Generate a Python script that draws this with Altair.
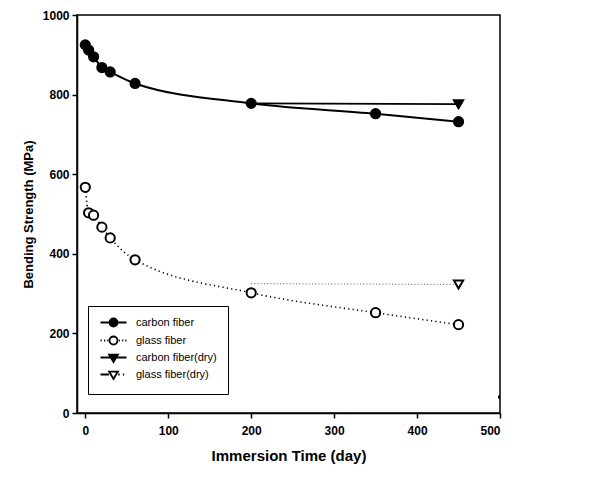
import altair as alt
import pandas as pd

days = [0, 4, 10, 20, 30, 60, 200, 350, 450]
carbon = [925, 912, 895, 868, 857, 828, 778, 752, 732]
glass = [567, 503, 497, 467, 440, 385, 302, 252, 222]
dry_days = [200, 450]
carbon_dry = [778, 776]
glass_dry = [325, 323]
stray_day = [500]
stray_val = [40]

series = ["carbon fiber", "glass fiber", "carbon fiber(dry)", "glass fiber(dry)"]

rows = []
for d, v in zip(days, carbon):
    rows.append({"day": d, "val": v, "series": series[0], "marker": True})
for d, v in zip(days, glass):
    rows.append({"day": d, "val": v, "series": series[1], "marker": True})
for i, (d, v) in enumerate(zip(dry_days, carbon_dry)):
    rows.append({"day": d, "val": v, "series": series[2], "marker": i == len(dry_days) - 1})
for i, (d, v) in enumerate(zip(dry_days, glass_dry)):
    rows.append({"day": d, "val": v, "series": series[3], "marker": i == len(dry_days) - 1})
df = pd.DataFrame(rows)
df["legend_series"] = df["series"]
stray = pd.DataFrame({"day": stray_day, "val": stray_val})

FONT = "Liberation Sans"
xs = alt.Scale(domain=[-10, 500], nice=False, zero=False)
ys = alt.Scale(domain=[0, 1000], nice=False)

X = alt.X("day:Q", scale=xs, title="Immersion Time (day)",
          axis=alt.Axis(values=[0, 100, 200, 300, 400, 500], grid=False, tickSize=5,
                        labelPadding=7, titlePadding=12, labelFontSize=12, format="d",
                        titleFontSize=15, labelFontWeight="bold", titleFontWeight="bold"))
Y = alt.Y("val:Q", scale=ys, title="Bending Strength (MPa)",
          axis=alt.Axis(values=[0, 200, 400, 600, 800, 1000], grid=False, tickSize=5,
                        labelPadding=3, titlePadding=7, labelFontSize=12, format="d",
                        titleFontSize=13, labelFontWeight="bold", titleFontWeight="bold"))

base = alt.Chart(df)

line_styles = {
    series[0]: dict(stroke="black", strokeWidth=2),
    series[1]: dict(stroke="black", strokeWidth=1.6, strokeDash=[1.2, 3.2]),
    series[2]: dict(stroke="black", strokeWidth=1.6),
    series[3]: dict(stroke="#555555", strokeWidth=1.0, strokeDash=[1, 2.2]),
}
lines = [
    base.transform_filter(alt.datum.series == s)
    .mark_line(interpolate="monotone", **st)
    .encode(x=X, y=Y)
    for s, st in line_styles.items()
]

points = base.transform_filter(alt.datum.marker).mark_point(
    stroke="black", strokeWidth=2, size=85, opacity=1
).encode(
    x=X, y=Y,
    shape=alt.Shape("series:N", scale=alt.Scale(domain=series,
                    range=["circle", "circle", "triangle-down", "triangle-down"]), legend=None),
    fill=alt.Fill("series:N", scale=alt.Scale(domain=series,
                  range=["black", "white", "black", "white"]), legend=None),
)


# legend symbol glyphs (line + marker), in Vega's unit symbol space
def ring(cx, r):
    return f"M{cx - r:.3f},0 A{r},{r} 0 1,0 {cx + r:.3f},0 A{r},{r} 0 1,0 {cx - r:.3f},0 Z "


def tri(cx, cy, s):
    pts = [(-1.1, -0.62), (1.1, -0.62), (0.0, 1.25)]
    p = [(cx + s * a, cy + s * b) for a, b in pts]
    return f"M{p[0][0]:.3f},{p[0][1]:.3f} L{p[1][0]:.3f},{p[1][1]:.3f} L{p[2][0]:.3f},{p[2][1]:.3f} Z "


C = 2.25
solid_line = "M-1,0 L5.5,0 "
dots = "M-1,0 L-0.7,0 M-0.1,0 L0.2,0 M0.7,0 L0.95,0 M3.6,0 L3.85,0 M4.4,0 L4.7,0 M5.2,0 L5.5,0 "
paths = [
    solid_line + ring(C, 1.0) + ring(C, 0.65) + ring(C, 0.32) + ring(C, 0.1),
    dots + ring(C, 1.0),
    solid_line + tri(C, -0.12, 1.0) + tri(C, -0.12, 0.6) + tri(C, -0.12, 0.25),
    "M-1,0 L1.1,0 M3.45,0 L3.8,0 M4.6,0 L4.9,0 " + tri(C, -0.12, 1.0),
]
leg = alt.Legend(orient="none", legendX=11, legendY=291, title=None,
                 symbolSize=64, labelOffset=26, padding=11, rowPadding=1,
                 labelFont=FONT, labelFontSize=11, labelColor="black",
                 strokeColor="black", symbolStrokeColor="black",
                 symbolStrokeWidth=1.8, symbolOpacity=1)
legend_layer = base.mark_point(filled=False, color="black", strokeWidth=1.8, opacity=0).encode(
    x=X, y=Y,
    shape=alt.Shape("legend_series:N", scale=alt.Scale(domain=series, range=paths), legend=leg),
)

stray_layer = alt.Chart(stray).mark_circle(color="black", size=18, opacity=1, clip=True).encode(x=X, y=Y)

chart = alt.layer(*lines, points, legend_layer, stray_layer).resolve_scale(
    shape="independent", fill="independent"
).properties(
    width=423, height=398,
    padding={"left": 77, "top": 15, "right": 113, "bottom": 66},
    autosize=alt.AutoSizeParams(type="none"),
    background="white",
).configure_view(
    stroke="black", strokeWidth=1.5
).configure_axis(
    labelFont=FONT, titleFont=FONT, labelColor="black", titleColor="black",
    domainColor="black", tickColor="black", domainWidth=1.5, tickWidth=1.5,
)

chart.save("out.html", embed_options={"renderer": "svg", "actions": False})
